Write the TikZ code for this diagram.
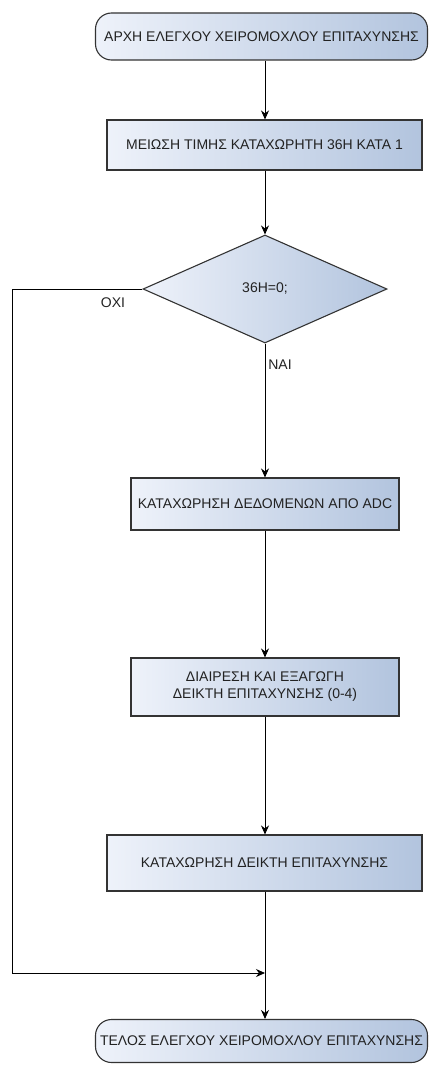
\documentclass[tikz,border=0pt]{standalone}
\usepackage{fontspec}
\setmainfont{Liberation Sans}
\usetikzlibrary{shapes.geometric,arrows.meta}
\definecolor{lightfill}{HTML}{EEF2FA}
\definecolor{darkfill}{HTML}{B2C4DE}
\definecolor{edge}{HTML}{333333}
\definecolor{txt}{HTML}{222222}
\tikzset{
  base/.style={draw=edge, line width=1.1pt, left color=lightfill, right color=darkfill, text=txt, inner sep=0pt, font=\fontsize{14}{17}\selectfont},
  term/.style={base, rectangle, rounded corners=16pt, minimum width=332pt},
  procbox/.style={base, rectangle, minimum height=52pt},
  decision/.style={base, diamond, minimum width=244pt, minimum height=108pt},
  conn/.style={draw=black, line width=0.9pt, -{Stealth[length=9pt,width=8pt]}},
  plain/.style={draw=black, line width=0.9pt},
  lbl/.style={text=txt, font=\fontsize{14}{17}\selectfont, inner sep=0pt}
}
\begin{document}
\begin{tikzpicture}[x=1pt,y=-1pt]
\useasboundingbox (0,0) rectangle (432,1065);
\node[term, minimum height=47pt] (start) at (261.5,36.5) {ΑΡΧΗ ΕΛΕΓΧΟΥ ΧΕΙΡΟΜΟΧΛΟΥ ΕΠΙΤΑΧΥΝΣΗΣ};
\node[procbox, minimum width=315pt, minimum height=50pt] (b1) at (264.5,145) {ΜΕΙΩΣΗ ΤΙΜΗΣ ΚΑΤΑΧΩΡΗΤΗ 36Η ΚΑΤΑ 1};
\node[decision] (d) at (265,289) {36Η=0;};
\node[procbox, minimum width=268pt] (b3) at (265,504) {ΚΑΤΑΧΩΡΗΣΗ ΔΕΔΟΜΕΝΩΝ ΑΠΟ ADC};
\node[procbox, minimum width=268pt, minimum height=58pt, align=center] (b4) at (265,687) {ΔΙΑΙΡΕΣΗ ΚΑΙ ΕΞΑΓΩΓΗ\\ΔΕΙΚΤΗ ΕΠΙΤΑΧΥΝΣΗΣ (0-4)};
\node[procbox, minimum width=315pt, minimum height=56pt] (b5) at (264.5,863) {ΚΑΤΑΧΩΡΗΣΗ ΔΕΙΚΤΗ ΕΠΙΤΑΧΥΝΣΗΣ};
\node[term, minimum height=43pt] (end) at (261.5,1041) {ΤΕΛΟΣ ΕΛΕΓΧΟΥ ΧΕΙΡΟΜΟΧΛΟΥ ΕΠΙΤΑΧΥΝΣΗΣ};
\coordinate (corner1) at (12,289);
\coordinate (corner2) at (12,973);
\coordinate (merge) at (265,973);
\node[lbl] (no) at (113,303) {ΟΧΙ};
\node[lbl] (yes) at (280,365) {ΝΑΙ};
\draw[conn] (start.south -| d.north) -- (b1.north -| d.north);
\draw[conn] (b1.south -| d.north) -- (d.north);
\draw[conn] (d.south) -- (b3.north);
\draw[conn] (b3.south) -- (b4.north);
\draw[conn] (b4.south) -- (b4.south |- b5.north);
\draw[plain] (b5.south -| d.north) -- (merge);
\draw[conn] (merge) -- (end.north -| d.north);
\draw[conn] (d.west) -- (corner1) -- (corner2) -- (merge);
\end{tikzpicture}
\end{document}
